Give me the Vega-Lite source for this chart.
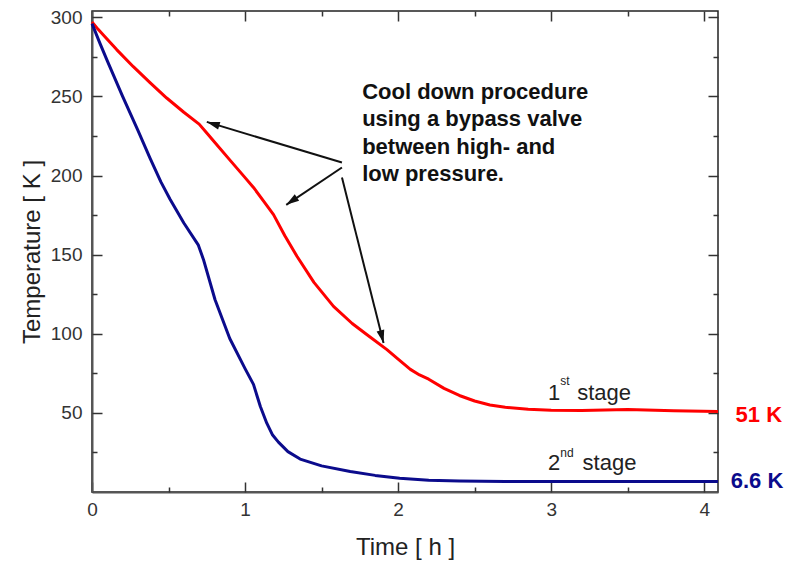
{
  "$schema": "https://vega.github.io/schema/vega-lite/v6.json",
  "width": 626,
  "height": 481,
  "autosize": "none",
  "padding": {"left": 92, "top": 11, "right": 78, "bottom": 72},
  "config": {
    "font": "Liberation Sans",
    "view": {"stroke": "#222", "strokeWidth": 1.5},
    "axis": {"grid": false}
  },
  "datasets": {
    "curves": [
      {"series": "1st", "t": 0, "T": 297},
      {"series": "1st", "t": 0.04, "T": 292.4},
      {"series": "1st", "t": 0.08, "T": 288.2},
      {"series": "1st", "t": 0.161, "T": 279.6},
      {"series": "1st", "t": 0.27, "T": 268.8},
      {"series": "1st", "t": 0.379, "T": 258.7},
      {"series": "1st", "t": 0.488, "T": 249},
      {"series": "1st", "t": 0.6, "T": 240},
      {"series": "1st", "t": 0.7, "T": 232.5},
      {"series": "1st", "t": 0.75, "T": 226.9},
      {"series": "1st", "t": 0.8, "T": 221.2},
      {"series": "1st", "t": 0.9, "T": 209.9},
      {"series": "1st", "t": 1.0, "T": 198.7},
      {"series": "1st", "t": 1.055, "T": 192.5},
      {"series": "1st", "t": 1.12, "T": 184},
      {"series": "1st", "t": 1.186, "T": 175.3},
      {"series": "1st", "t": 1.26, "T": 162},
      {"series": "1st", "t": 1.339, "T": 149},
      {"series": "1st", "t": 1.45, "T": 132.5},
      {"series": "1st", "t": 1.578, "T": 117.3},
      {"series": "1st", "t": 1.7, "T": 106.5},
      {"series": "1st", "t": 1.797, "T": 99.4},
      {"series": "1st", "t": 1.927, "T": 90},
      {"series": "1st", "t": 2.0, "T": 84},
      {"series": "1st", "t": 2.08, "T": 77.5},
      {"series": "1st", "t": 2.14, "T": 74},
      {"series": "1st", "t": 2.2, "T": 71.3},
      {"series": "1st", "t": 2.3, "T": 65.5},
      {"series": "1st", "t": 2.4, "T": 61},
      {"series": "1st", "t": 2.5, "T": 57.5},
      {"series": "1st", "t": 2.6, "T": 55},
      {"series": "1st", "t": 2.7, "T": 53.5},
      {"series": "1st", "t": 2.85, "T": 52.3},
      {"series": "1st", "t": 3.0, "T": 51.7},
      {"series": "1st", "t": 3.2, "T": 51.5},
      {"series": "1st", "t": 3.5, "T": 52.2},
      {"series": "1st", "t": 3.8, "T": 51.3},
      {"series": "1st", "t": 4.09, "T": 50.8},
      {"series": "2nd", "t": 0, "T": 296},
      {"series": "2nd", "t": 0.05, "T": 284},
      {"series": "2nd", "t": 0.1, "T": 272.5},
      {"series": "2nd", "t": 0.2, "T": 250},
      {"series": "2nd", "t": 0.3, "T": 228.5},
      {"series": "2nd", "t": 0.379, "T": 211},
      {"series": "2nd", "t": 0.45, "T": 196},
      {"series": "2nd", "t": 0.51, "T": 185},
      {"series": "2nd", "t": 0.6, "T": 170},
      {"series": "2nd", "t": 0.695, "T": 156},
      {"series": "2nd", "t": 0.728, "T": 147},
      {"series": "2nd", "t": 0.804, "T": 121.5},
      {"series": "2nd", "t": 0.9, "T": 97},
      {"series": "2nd", "t": 1.0, "T": 78},
      {"series": "2nd", "t": 1.055, "T": 68},
      {"series": "2nd", "t": 1.1, "T": 54},
      {"series": "2nd", "t": 1.142, "T": 43.5},
      {"series": "2nd", "t": 1.18, "T": 36},
      {"series": "2nd", "t": 1.218, "T": 31.5},
      {"series": "2nd", "t": 1.28, "T": 25.5},
      {"series": "2nd", "t": 1.36, "T": 20.8},
      {"series": "2nd", "t": 1.5, "T": 16.5},
      {"series": "2nd", "t": 1.687, "T": 12.9},
      {"series": "2nd", "t": 1.85, "T": 10.5},
      {"series": "2nd", "t": 2.01, "T": 8.7},
      {"series": "2nd", "t": 2.2, "T": 7.4},
      {"series": "2nd", "t": 2.4, "T": 6.9},
      {"series": "2nd", "t": 2.7, "T": 6.7},
      {"series": "2nd", "t": 3.0, "T": 6.6},
      {"series": "2nd", "t": 3.5, "T": 6.6},
      {"series": "2nd", "t": 4.09, "T": 6.6}
    ],
    "dummy": [{"t": 0, "T": 0}],
    "arrows": [
      {"t": 1.633, "T": 208.2, "t2": 0.75, "T2": 233.9, "ang": 286.9},
      {"t": 1.633, "T": 205.1, "t2": 1.269, "T2": 181.5, "ang": 235.5},
      {"t": 1.633, "T": 198.7, "t2": 1.905, "T2": 94.1, "ang": 165.9}
    ],
    "note": [
      {"t": 1.765, "T": 248.5, "label": "Cool down procedure"},
      {"t": 1.765, "T": 231.2, "label": "using a bypass valve"},
      {"t": 1.765, "T": 213.7, "label": "between high- and"},
      {"t": 1.765, "T": 196.4, "label": "low pressure."}
    ],
    "stage": [
      {"t": 2.98, "T": 58.2, "label": "1"},
      {"t": 3.17, "T": 58.2, "label": "stage"},
      {"t": 2.98, "T": 13.9, "label": "2"},
      {"t": 3.205, "T": 13.9, "label": "stage"}
    ],
    "sup": [
      {"t": 3.06, "T": 67.5, "label": "st"},
      {"t": 3.06, "T": 22.2, "label": "nd"}
    ],
    "endlabels": [
      {"series": "1st", "t": 4.205, "T": 44.3, "label": "51 K"},
      {"series": "2nd", "t": 4.173, "T": 2.5, "label": "6.6 K"}
    ]
  },
  "resolve": {"axis": {"x": "independent", "y": "independent"}},
  "layer": [
    {
      "data": {"name": "curves"},
      "mark": {"type": "line", "strokeWidth": 3, "interpolate": "linear", "strokeJoin": "round"},
      "encoding": {
        "x": {
          "field": "t", "type": "quantitative",
          "scale": {"domain": [0, 4.09], "nice": false, "zero": false},
          "axis": {
            "orient": "bottom", "values": [0, 1, 2, 3, 4], "format": "d",
            "ticks": false, "labelFontSize": 19, "labelColor": "#333",
            "labelPadding": 8, "labelFlush": false,
            "domainColor": "#555", "domainWidth": 2,
            "title": "Time [ h ]", "titleFontSize": 24, "titleFontWeight": "normal",
            "titleColor": "#222", "titleY": 55, "titleBaseline": "middle"
          }
        },
        "y": {
          "field": "T", "type": "quantitative",
          "scale": {"domain": [0, 304], "nice": false, "zero": false},
          "axis": {
            "orient": "left", "values": [50, 100, 150, 200, 250, 300],
            "ticks": false, "labelFontSize": 19, "labelColor": "#333",
            "labelPadding": 10, "labelFlush": false,
            "domainColor": "#555", "domainWidth": 2,
            "title": "Temperature [ K ]", "titleFontSize": 24, "titleFontWeight": "normal",
            "titleColor": "#222", "titleX": -60, "titleY": 240.5,
            "titleAngle": -90, "titleAlign": "center", "titleBaseline": "middle"
          }
        },
        "color": {
          "field": "series", "type": "nominal",
          "scale": {"domain": ["1st", "2nd"], "range": ["#ff0000", "#0b0b8c"]},
          "legend": null
        }
      }
    },
    {
      "data": {"name": "dummy"},
      "mark": {"type": "point", "opacity": 0},
      "encoding": {
        "x": {"field": "t", "type": "quantitative",
          "axis": {"orient": "bottom", "values": [0, 1, 2, 3, 4], "labels": false, "domain": false, "title": null,
            "tickSize": -10, "tickColor": "#333", "tickWidth": 1.5}},
        "y": {"field": "T", "type": "quantitative",
          "axis": {"orient": "left", "values": [50, 100, 150, 200, 250, 300], "labels": false, "domain": false, "title": null,
            "tickSize": -10, "tickColor": "#333", "tickWidth": 1.5}}
      }
    },
    {
      "data": {"name": "dummy"},
      "mark": {"type": "point", "opacity": 0},
      "encoding": {
        "x": {"field": "t", "type": "quantitative",
          "axis": {"orient": "bottom", "values": [0.5, 1.5, 2.5, 3.5], "labels": false, "domain": false, "title": null,
            "tickSize": -5, "tickColor": "#333", "tickWidth": 1.5}},
        "y": {"field": "T", "type": "quantitative",
          "axis": {"orient": "left", "values": [25, 75, 125, 175, 225, 275], "labels": false, "domain": false, "title": null,
            "tickSize": -5, "tickColor": "#333", "tickWidth": 1.5}}
      }
    },
    {
      "data": {"name": "dummy"},
      "mark": {"type": "point", "opacity": 0},
      "encoding": {
        "x": {"field": "t", "type": "quantitative",
          "axis": {"orient": "top", "values": [0, 1, 2, 3, 4], "labels": false, "domain": false, "title": null,
            "tickSize": -10, "tickColor": "#333", "tickWidth": 1.5}},
        "y": {"field": "T", "type": "quantitative",
          "axis": {"orient": "right", "values": [50, 100, 150, 200, 250, 300], "labels": false, "domain": false, "title": null,
            "tickSize": -10, "tickColor": "#333", "tickWidth": 1.5}}
      }
    },
    {
      "data": {"name": "dummy"},
      "mark": {"type": "point", "opacity": 0},
      "encoding": {
        "x": {"field": "t", "type": "quantitative",
          "axis": {"orient": "top", "values": [0.5, 1.5, 2.5, 3.5], "labels": false, "domain": false, "title": null,
            "tickSize": -5, "tickColor": "#333", "tickWidth": 1.5}},
        "y": {"field": "T", "type": "quantitative",
          "axis": {"orient": "right", "values": [25, 75, 125, 175, 225, 275], "labels": false, "domain": false, "title": null,
            "tickSize": -5, "tickColor": "#333", "tickWidth": 1.5}}
      }
    },
    {
      "data": {"name": "arrows"},
      "mark": {"type": "rule", "color": "#111", "strokeWidth": 2},
      "encoding": {
        "x": {"field": "t", "type": "quantitative", "axis": null},
        "y": {"field": "T", "type": "quantitative", "axis": null},
        "x2": {"field": "t2"},
        "y2": {"field": "T2"}
      }
    },
    {
      "data": {"name": "arrows"},
      "mark": {"type": "point", "shape": "M0,0L-0.6,2L0.6,2Z", "filled": true, "color": "#111", "opacity": 1, "size": 169, "strokeWidth": 0},
      "encoding": {
        "x": {"field": "t2", "type": "quantitative", "axis": null},
        "y": {"field": "T2", "type": "quantitative", "axis": null},
        "angle": {"field": "ang", "type": "quantitative", "scale": null}
      }
    },
    {
      "data": {"name": "note"},
      "mark": {"type": "text", "align": "left", "baseline": "alphabetic", "fontSize": 22, "fontWeight": "bold", "color": "#111", "font": "Liberation Sans"},
      "encoding": {
        "x": {"field": "t", "type": "quantitative", "axis": null},
        "y": {"field": "T", "type": "quantitative", "axis": null},
        "text": {"field": "label", "type": "nominal"}
      }
    },
    {
      "data": {"name": "stage"},
      "mark": {"type": "text", "align": "left", "baseline": "alphabetic", "fontSize": 22, "color": "#222", "font": "Liberation Sans"},
      "encoding": {
        "x": {"field": "t", "type": "quantitative", "axis": null},
        "y": {"field": "T", "type": "quantitative", "axis": null},
        "text": {"field": "label", "type": "nominal"}
      }
    },
    {
      "data": {"name": "sup"},
      "mark": {"type": "text", "align": "left", "baseline": "alphabetic", "fontSize": 12, "color": "#222", "font": "Liberation Sans"},
      "encoding": {
        "x": {"field": "t", "type": "quantitative", "axis": null},
        "y": {"field": "T", "type": "quantitative", "axis": null},
        "text": {"field": "label", "type": "nominal"}
      }
    },
    {
      "data": {"name": "endlabels"},
      "mark": {"type": "text", "align": "left", "baseline": "alphabetic", "fontSize": 22, "fontWeight": "bold", "font": "Liberation Sans"},
      "encoding": {
        "x": {"field": "t", "type": "quantitative", "axis": null},
        "y": {"field": "T", "type": "quantitative", "axis": null},
        "text": {"field": "label", "type": "nominal"},
        "color": {"field": "series", "type": "nominal", "legend": null}
      }
    }
  ]
}
